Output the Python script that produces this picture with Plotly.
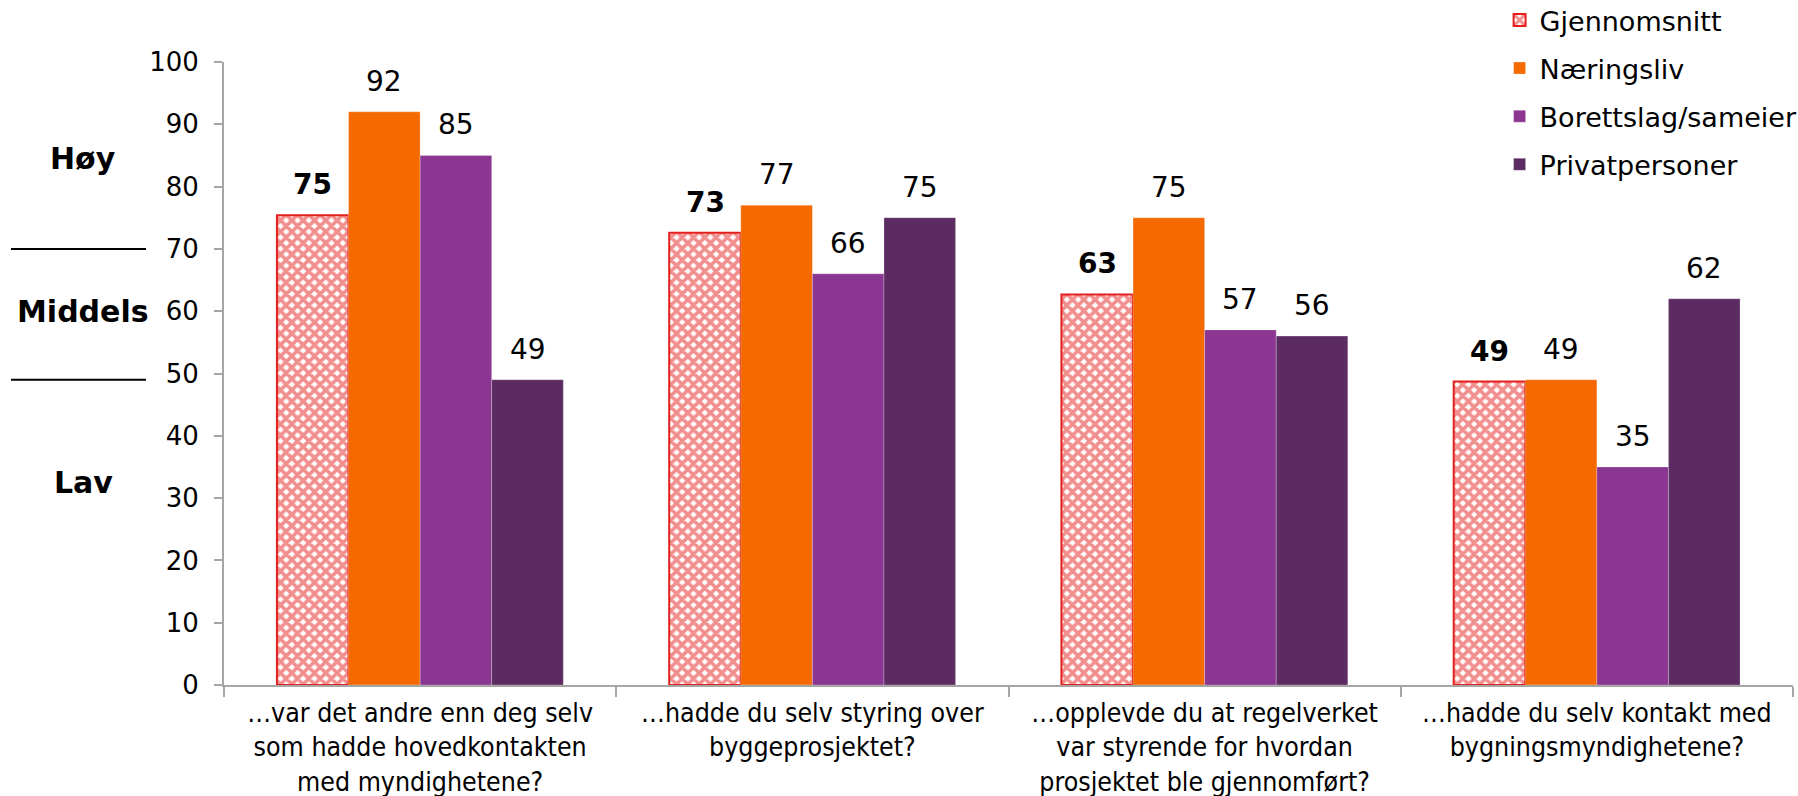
import plotly.graph_objects as go

# Survey questions (x categories)
categories = [
    "…var det andre enn deg selv<br>som hadde hovedkontakten<br>med myndighetene?",
    "…hadde du selv styring over<br>byggeprosjektet?",
    "…opplevde du at regelverket<br>var styrende for hvordan<br>prosjektet ble gjennomført?",
    "…hadde du selv kontakt med<br>bygningsmyndighetene?",
]

series_names = ["Gjennomsnitt", "Næringsliv", "Borettslag/sameier", "Privatpersoner"]
gjennomsnitt = [75.4, 72.6, 62.7, 48.7]
naeringsliv = [92, 77, 75, 49]
borettslag = [85, 66, 57, 35]
privatpersoner = [49, 75, 56, 62]

# Score bands shown left of the y axis
band_labels = ["Høy", "Middels", "Lav"]
band_label_y = [84.5, 60, 32.5]
band_divider_y = [70, 49]

y_ticks = [0, 10, 20, 30, 40, 50, 60, 70, 80, 90, 100]

colors = ["#E3201E", "#F46A00", "#8B3691", "#5C2B61"]
values = [gjennomsnitt, naeringsliv, borettslag, privatpersoner]

FONT = "DejaVu Sans, Verdana, sans-serif"
COND = "DejaVu Sans Condensed, DejaVu Sans, sans-serif"
W, H = 1798, 796
ML, MR, MT, MB = 224, 5, 62, 111
BARGAP = 0.27

fig = go.Figure()

fig.add_trace(go.Bar(
    name=series_names[0], x=categories, y=gjennomsnitt,
    legendgroup="g0",
    marker=dict(
        color="white",
        line=dict(color=colors[0], width=2),
        pattern=dict(shape="x", fgcolor=colors[0], bgcolor="white",
                     size=8, solidity=0.7, fillmode="overlay"),
    ),
    hoverinfo="skip",
))
for i in range(1, 4):
    fig.add_trace(go.Bar(
        name=series_names[i], x=categories, y=values[i],
        legendgroup=f"g{i}",
        marker=dict(color=colors[i], line=dict(color="rgba(255,255,255,0.25)", width=1)),
        hoverinfo="skip",
    ))

# Value labels above each bar
plot_w = W - ML - MR
cat_w = plot_w / len(categories)
bar_w = cat_w * (1 - BARGAP) / len(series_names)
for s, vals in enumerate(values):
    shift = (s - (len(series_names) - 1) / 2) * bar_w
    for c, v in enumerate(vals):
        txt = f"{v:.0f}"
        fig.add_annotation(
            x=categories[c], y=v, xref="x", yref="y",
            text=f"<b>{txt}</b>" if s == 0 else txt,
            showarrow=False, xanchor="center", yanchor="bottom",
            xshift=shift, yshift=12,
            font=dict(family=FONT, size=28, color="black"),
        )

# Band labels and divider lines to the left of the axis
for lbl, yv in zip(band_labels, band_label_y):
    fig.add_annotation(
        x=0, y=yv, xref="paper", yref="y", text=f"<b>{lbl}</b>",
        showarrow=False, xanchor="center", yanchor="middle", xshift=-141,
        font=dict(family=FONT, size=30, color="black"),
    )
for yv in band_divider_y:
    fig.add_shape(
        type="line", xref="paper", yref="y", xsizemode="pixel", xanchor=0,
        x0=-213, x1=-78, y0=yv, y1=yv,
        line=dict(color="black", width=2),
    )

fig.update_layout(
    width=W, height=H,
    margin=dict(l=ML, r=MR, t=MT, b=MB, pad=0, autoexpand=False),
    paper_bgcolor="white", plot_bgcolor="white",
    barmode="group", bargap=BARGAP, bargroupgap=0,
    font=dict(family=FONT, size=25, color="black"),
    showlegend=True,
    legend=dict(
        x=0.813, xanchor="left", y=1.106, yanchor="top",
        orientation="v", traceorder="grouped", tracegroupgap=10,
        font=dict(family=FONT, size=27, color="black"),
        bgcolor="rgba(0,0,0,0)", itemwidth=30,
    ),
    xaxis=dict(
        showline=True, linecolor="#A6A6A6", linewidth=2,
        ticks="outside", tickson="boundaries", ticklen=10,
        tickcolor="#A6A6A6", tickwidth=2, automargin=False,
        showgrid=False, ticklabelstandoff=3,
        tickfont=dict(family=COND, size=26.5, color="black"),
    ),
    yaxis=dict(
        range=[0, 100], tickvals=y_ticks, automargin=False,
        showline=True, linecolor="#A6A6A6", linewidth=2,
        ticks="outside", ticklen=8, tickcolor="#A6A6A6", tickwidth=2,
        showgrid=False, zeroline=False,
        ticklabelstandoff=10,
        tickfont=dict(family=FONT, size=26, color="black"),
    ),
)

fig.write_html("out.html")
